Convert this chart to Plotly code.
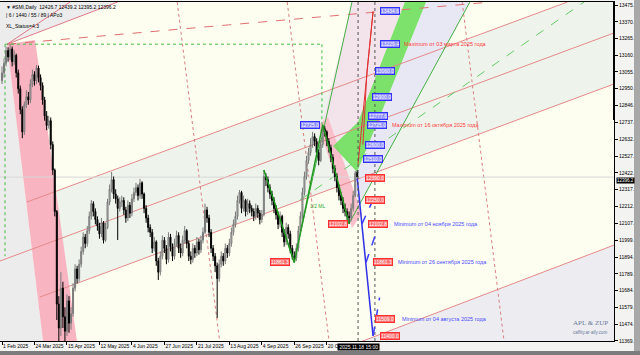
import plotly.graph_objects as go

# ---------------- data ----------------
bars = list(range(176))
opens = [13000,13050,13110,13190,13150,13200,13120,13160,13050,12950,12820,12680,12850,12900,12880,12980,13040,13000,13080,13020,
         12970,12880,12780,12720,12750,12600,12440,12180,11600,11450,11700,11520,11430,11620,11480,11540,11700,11820,11760,11850,
         11930,12020,11980,12060,12150,12230,12180,12130,12090,12040,12110,12000,12080,12240,12320,12380,12290,12260,12200,12240,
         12250,12190,12140,12220,12170,12260,12300,12330,12280,12360,12290,12200,12140,12080,12050,11950,11990,11870,11800,11900,
         12000,11950,11880,12020,11960,11900,11980,12030,11950,11920,12000,12060,11980,11900,11880,11950,11920,11990,11940,12000,
         12050,12190,12140,12050,11950,11900,11840,11760,11850,11900,11870,11950,11920,11980,12050,12100,12150,12250,12300,12200,
         12250,12180,12230,12200,12180,12150,12200,12170,12130,12160,12400,12380,12330,12290,12250,12200,12160,12100,12150,12050,
         11990,12080,12040,11950,11900,11890,11950,12060,12150,12300,12400,12500,12550,12600,12650,12620,12550,12500,12600,12700,
         12680,12620,12580,12520,12450,12400,12330,12280,12250,12200,12180,12150,12140,12200,12280,12426.7]
closes = [13050,13110,13190,13150,13200,13120,13160,13050,12950,12820,12680,12850,12900,12880,12980,13040,13000,13080,13020,12970,
          12880,12780,12720,12750,12600,12440,12180,11600,11450,11700,11520,11430,11620,11480,11540,11700,11820,11760,11850,11930,
          12020,11980,12060,12150,12230,12180,12130,12090,12040,12110,12000,12080,12240,12320,12380,12290,12260,12200,12240,12250,
          12190,12140,12220,12170,12260,12300,12330,12280,12360,12290,12200,12140,12080,12050,11950,11990,11870,11800,11900,12000,
          11950,11880,12020,11960,11900,11980,12030,11950,11920,12000,12060,11980,11900,11880,11950,11920,11990,11940,12000,12050,
          12190,12140,12050,11950,11900,11840,11760,11850,11900,11870,11950,11920,11980,12050,12100,12150,12250,12300,12200,12250,
          12180,12230,12200,12180,12150,12200,12170,12130,12160,12400,12380,12330,12290,12250,12200,12160,12100,12150,12050,11990,
          12080,12040,11950,11900,11890,11950,12060,12150,12300,12400,12500,12550,12600,12650,12620,12550,12500,12600,12700,12680,
          12620,12580,12520,12450,12400,12330,12280,12250,12200,12180,12150,12140,12200,12280,12420,12396.2]
highs = [13090,13140,13215,13210,13229.4,13215,13190,13170,13070,12970,12840,12870,12940,12930,13010,13070,13060,13099,13095,13040,
         12990,12900,12810,12780,12770,12620,12450,12190,11650,11800,11740,11580,11660,11650,11580,11730,11850,11840,11880,11960,
         12050,12040,12090,12180,12253,12245,12200,12150,12110,12140,12120,12110,12260,12350,12428,12400,12320,12280,12270,12280,
         12270,12210,12250,12240,12290,12330,12360,12350,12385,12370,12300,12220,12160,12100,12070,12020,12000,11890,11930,12030,
         12020,11970,12050,12040,11980,12010,12060,12050,11980,12030,12090,12070,12000,11930,11980,11970,12020,12010,12030,12080,
         12230,12210,12160,12070,11970,11920,11860,11880,11930,11920,11980,11970,12010,12080,12130,12180,12280,12315,12310,12280,
         12260,12260,12250,12220,12200,12230,12220,12190,12190,12440,12420,12400,12350,12310,12270,12220,12180,12180,12160,12070,
         12110,12100,12060,11970,11930,11980,12090,12180,12330,12430,12530,12580,12640,12680,12670,12640,12570,12630,12725,12715,
         12690,12640,12600,12540,12470,12420,12350,12300,12270,12230,12200,12180,12230,12310,12435,12439.2]
lows = [12980,13020,13090,13120,13130,13090,13100,13020,12920,12790,12640,12660,12830,12850,12860,12960,12970,12980,12990,12940,
        12850,12750,12690,12700,12570,12410,12150,11500,11250,11400,11450,11300,11400,11420,11440,11520,11680,11730,11740,11830,
        11910,11950,11960,12040,12130,12150,12100,12060,12010,12020,11980,11990,12070,12220,12300,12260,12230,12002,12180,12210,
        12160,12110,12120,12140,12150,12240,12280,12250,12260,12260,12170,12110,12050,12020,11920,11930,11840,11751,11780,11880,
        11920,11850,11860,11930,11870,11880,11960,11920,11890,11900,11980,11950,11870,11850,11860,11890,11900,11910,11920,11980,
        12040,12110,12020,11920,11870,11800,11513,11740,11830,11840,11850,11890,11900,11960,12030,12080,12130,12230,12170,12180,
        12150,12160,12170,12150,12120,12130,12140,12100,12110,12150,12340,12300,12260,12220,12170,12130,12070,12080,12020,11960,
        11970,12010,11920,11880,11861.3,11870,11930,12040,12130,12280,12380,12480,12530,12580,12590,12520,12470,12490,12580,12650,
        12590,12550,12490,12420,12370,12300,12250,12220,12170,12150,12120,12102.8,12120,12180,12270,12395.2]

tick_bars = [0, 16, 32, 48, 64, 80, 96, 112, 128, 144, 160]
tick_dates = ["1 Feb 2025", "24 Mar 2025", "15 Apr 2025", "12 May 2025", "4 Jun 2025", "27 Jun 2025",
              "21 Jul 2025", "13 Aug 2025", "4 Sep 2025", "26 Sep 2025", "20 Oct 2025"]
price_ticks = [13475.2, 13370.2, 13265.2, 13160.2, 13055.2, 12950.2, 12846.2, 12737.2, 12632.2, 12527.2, 12422.2,
               12317.2, 12212.2, 12107.2, 11999.2, 11894.2, 11789.2, 11684.2, 11579.2, 11474.2, 11369.2]
last_price = 12396.2

X0, X1 = -0.985, 301.48
Y0, Y1 = 11368.5, 13494.0

# channel lines (bar, price, bar, price)
red_channel = [(12.3, 12240, 278.6, 13494), (-1, 11870, 301.5, 13300),
               (18.7, 11644, 301.5, 12980), (176.4, 11362, 301.5, 11970)]
fan_lines = [(2.5, 13229.4, 33.5, 13494), (2.5, 13229.4, 57, 13494)]
dash_line = (2.5, 13229.4, 241, 13494)
red_dotted = [(86.3, 13494, 107.2, 11368.5), (140.5, 13494, 161.1, 11368.5), (226.7, 13494, 247.3, 11368.5)]
black_dotted_bars = [175.4, 183.7]
green_thin = [(143.8, 11861.3, 172.4, 13494), (170.9, 12102.8, 230.5, 13494), (129, 12440, 143.8, 11861.3)]
green_median = (146.8, 12252, 286.7, 13494)

# shaded areas (polygons)
gray_left = [(-1, 13494), (57, 13494), (2.5, 13229.4), (20.2, 11368.5), (-1, 11368.5)]
pink_crash = [(2.5, 13229.4), (16.3, 13256), (36.9, 11368.5), (20.2, 11368.5)]
mint_band = [(12.3, 12240), (278.6, 13494), (301.5, 13494), (301.5, 12980), (18.7, 11644)]
gray_low = [(176.4, 11362), (301.5, 11970), (301.5, 11368.5)]
pink_light = [(157.6, 12723), (172.4, 13494), (198.5, 13494), (175.4, 12742), (163.1, 12591)]
lavender = [(208.9, 13494), (230.5, 13494), (170.9, 12102.8), (174.9, 12428), (184.2, 12716)]
pink_recent = [(155.7, 12723), (160.6, 12773), (177.3, 12165), (172.4, 12077)]
green_band = [(163.1, 12591), (175.4, 12742), (198.5, 13494), (208.9, 13494), (184.2, 12716), (174.9, 12428)]

zigzag_bars = [129, 144, 158, 171]
zigzag_prices = [12440, 11861.3, 12725, 12102.8]
blue_proj_bars = [175, 177.3, 179.3, 182.8]
blue_proj_prices = [12390, 12102.8, 11861.3, 11400]
blue_dash = [(177.3, 12102.8, 182.3, 12240), (179.3, 11861.3, 184.7, 12062), (182.8, 11400, 186.0, 11640)]
red_proj_bars = [175.4, 182.8, 179.8, 177.8]
red_proj_prices = [12480, 13434.6, 13060, 12600]

blue_labels = [("13434.6", 186.2, 13434.6), ("13229.4", 186.2, 13229.4), ("13060.0", 183.7, 13060),
               ("12900.0", 182.3, 12900), ("12777.6", 180.3, 12777.6), ("12725.0", 179.8, 12725),
               ("12600.0", 178.8, 12600), ("12510.0", 177.8, 12510)]
red_labels = [("12390.0", 178.8, 12390), ("12250.0", 178.8, 12250), ("12102.8", 180.3, 12102.8),
              ("11861.3", 182.8, 11861.3), ("11509.0", 183.7, 11509), ("11400.0", 186.2, 11400)]
left_labels = [("12725.0", 156.7, 12725, "blue"), ("12102.8", 170.4, 12102.8, "red"), ("11861.3", 141.9, 11861.3, "red")]
notes = [("Maximum от 03 марта 2025 года", 197.0, 13229.4, "#ff3b3b"),
         ("Maximum от 16 октября 2025 года", 191.1, 12725, "#ff3b3b"),
         ("Minimum от 04 ноября 2025 года", 192.1, 12102.8, "#4a4aff"),
         ("Minimum от 26 сентября 2025 года", 194.1, 11861.3, "#4a4aff"),
         ("Minimum от 04 августа 2025 года", 196.0, 11509, "#4a4aff")]

# ---------------- figure ----------------
FONT = "Liberation Sans"
fig = go.Figure()
shapes = []

def poly(pts, color, opacity=1.0):
    path = "M " + " L ".join(f"{x},{y}" for x, y in pts) + " Z"
    return dict(type="path", path=path, xref="x", yref="y", fillcolor=color, opacity=opacity,
                line=dict(width=0), layer="below")

def seg(l, color, width=1, dash="solid", layer="below"):
    return dict(type="line", xref="x", yref="y", x0=l[0], y0=l[1], x1=l[2], y1=l[3],
                line=dict(color=color, width=width, dash=dash), layer=layer)

shapes.append(poly(mint_band, "#eef4ec"))
shapes.append(poly(gray_left, "#ececec"))
shapes.append(poly(gray_low, "#ededf1"))
shapes.append(poly(pink_crash, "#f9b4c2"))
shapes.append(poly(pink_light, "#f3e4ec"))
shapes.append(poly(lavender, "#e8e8f5"))
shapes.append(poly(pink_recent, "#f9c0cc"))
shapes.append(poly(green_band, "#66dd55", 0.85))

for l in red_channel:
    shapes.append(seg(l, "#e48a8a", 1))
for l in fan_lines:
    shapes.append(seg(l, "#e07a8a", 1))
shapes.append(seg(dash_line, "#e07070", 1, "dash"))
for l in red_dotted:
    shapes.append(seg(l, "#d88080", 1, "dot"))
for l in green_thin:
    shapes.append(seg(l, "#44b044", 1))
shapes.append(seg(green_median, "#66cc66", 1, "dash"))
for b in black_dotted_bars:
    shapes.append(seg((b, Y0, b, Y1), "#555555", 1, "dot", "above"))
shapes.append(seg((X0, last_price, X1, last_price), "#d8d8d8", 1))
# green dotted frame
shapes.append(seg((1.5, 13229.4, 157.6, 13229.4), "#44bb44", 1, "dot"))
shapes.append(seg((157.6, 13229.4, 157.6, 12725), "#44bb44", 1, "dot"))
shapes.append(seg((1.5, 13229.4, 1.5, 11900), "#44bb44", 1, "dot"))
for l in blue_dash:
    shapes.append(seg(l, "#3a3aff", 1.5, "dash", "above"))

# window frame
shapes.append(dict(type="rect", xref="paper", yref="paper", x0=634/614, x1=640/614, y0=-14/339, y1=341/339,
                   fillcolor="#a8a8a8", line=dict(width=0)))
shapes.append(dict(type="rect", xref="paper", yref="paper", x0=0, x1=640/614, y0=-14/339, y1=-10/339,
                   fillcolor="#7c7c7c", line=dict(width=0)))
shapes.append(dict(type="line", xref="paper", yref="paper", x0=1, x1=1, y0=(341-120)/339, y1=1,
                   line=dict(color="#000000", width=2)))

fig.add_trace(go.Candlestick(x=bars, open=opens, high=highs, low=lows, close=closes,
                             increasing=dict(line=dict(color="#7a7a7a", width=1), fillcolor="#c8c8c8"),
                             decreasing=dict(line=dict(color="#000000", width=1), fillcolor="#000000"),
                             whiskerwidth=0, showlegend=False, hoverinfo="skip"))

fig.add_trace(go.Scatter(x=zigzag_bars, y=zigzag_prices, mode="lines",
                         line=dict(color="#229922", width=1.5), showlegend=False, hoverinfo="skip"))
fig.add_trace(go.Scatter(x=blue_proj_bars, y=blue_proj_prices, mode="lines",
                         line=dict(color="#3030e8", width=1.5), showlegend=False, hoverinfo="skip"))
fig.add_trace(go.Scatter(x=red_proj_bars, y=red_proj_prices, mode="lines",
                         line=dict(color="#e03030", width=1), showlegend=False, hoverinfo="skip"))

ann = []
for t, b, p in blue_labels:
    ann.append(dict(x=b, y=p, text=t, xanchor="left", yanchor="middle", showarrow=False,
                    font=dict(family=FONT, size=5, color="#ffffff"), bgcolor="#8f8fff",
                    bordercolor="#3030ff", borderwidth=1, borderpad=0))
for t, b, p in red_labels:
    ann.append(dict(x=b, y=p, text=t, xanchor="left", yanchor="middle", showarrow=False,
                    font=dict(family=FONT, size=5, color="#ffffff"), bgcolor="#ff7070",
                    bordercolor="#ff3030", borderwidth=1, borderpad=0))
for t, b, p, c in left_labels:
    bg, bc = ("#8f8fff", "#3030ff") if c == "blue" else ("#ff7070", "#ff3030")
    ann.append(dict(x=b, y=p, text=t, xanchor="right", yanchor="middle", showarrow=False,
                    font=dict(family=FONT, size=5, color="#ffffff"), bgcolor=bg,
                    bordercolor=bc, borderwidth=1, borderpad=0))
for t, b, p, c in notes:
    ann.append(dict(x=b, y=p, text=t, xanchor="left", yanchor="middle", showarrow=False,
                    font=dict(family=FONT, size=5.5, color=c)))
ann.append(dict(x=150.5, y=12215, text="1/2 ML", xanchor="left", yanchor="middle", showarrow=False,
                font=dict(family=FONT, size=5, color="#33aa33")))

# header texts
ann.append(dict(xref="paper", yref="paper", x=4/614, y=(341-7)/339, text="▼ #SMI,Daily  12426.7 12439.2 12395.2 12396.2",
                xanchor="left", yanchor="middle", showarrow=False, font=dict(family=FONT, size=5, color="#000000")))
ann.append(dict(xref="paper", yref="paper", x=4/614, y=(341-15)/339, text="| 6 / 1440 / 55 / 89 | APo3",
                xanchor="left", yanchor="middle", showarrow=False, font=dict(family=FONT, size=5, color="#000000")))
ann.append(dict(xref="paper", yref="paper", x=4/614, y=(341-26)/339, text="XL_Status=4.3",
                xanchor="left", yanchor="middle", showarrow=False, font=dict(family=FONT, size=5, color="#000000")))
# price box and time box
ann.append(dict(xref="paper", yref="y", x=1.003, y=last_price, text="12396.2", xanchor="left", yanchor="top",
                showarrow=False, font=dict(family=FONT, size=4.5, color="#ffffff"), bgcolor="#000000", borderpad=0))
ann.append(dict(xref="x", yref="paper", x=175.4, y=-5.5/339, text=" 2025.11.18 15:00 ", xanchor="center", yanchor="middle",
                showarrow=False, font=dict(family=FONT, size=5, color="#ffffff"), bgcolor="#000000", borderpad=0))
# watermark
ann.append(dict(xref="paper", yref="paper", x=590/614, y=(341-323)/339, text="APL & ZUP", xanchor="center",
                yanchor="middle", showarrow=False, font=dict(family="Liberation Serif", size=7, color="#6a7a9a")))
ann.append(dict(xref="paper", yref="paper", x=590/614, y=(341-332)/339, text="caffity.ar-ally.com", xanchor="center",
                yanchor="middle", showarrow=False, font=dict(family=FONT, size=4.5, color="#6a7a9a")))

fig.update_layout(
    width=640, height=355, margin=dict(l=0, r=26, t=2, b=14),
    paper_bgcolor="#f3f3f1", plot_bgcolor="#fdfdf0",
    shapes=shapes, annotations=ann, showlegend=False,
    xaxis=dict(range=[X0, X1], tickvals=tick_bars, ticktext=tick_dates, ticks="outside", ticklen=3,
               tickcolor="#000", showgrid=False, zeroline=False, rangeslider=dict(visible=False),
               ticklabelposition="outside right", tickangle=0, tickfont=dict(family=FONT, size=5, color="#000"),
               showline=True, linecolor="#000", linewidth=1, mirror=True, fixedrange=True),
    yaxis=dict(range=[Y0, Y1], side="right", tickvals=price_ticks, ticktext=[f"{v:.1f}" for v in price_ticks],
               ticks="outside", ticklen=3, tickcolor="#000", showgrid=False, zeroline=False,
               tickfont=dict(family=FONT, size=5, color="#000"), showline=True, linecolor="#000",
               linewidth=1, mirror=True, fixedrange=True),
)

fig.write_html("out.html")
